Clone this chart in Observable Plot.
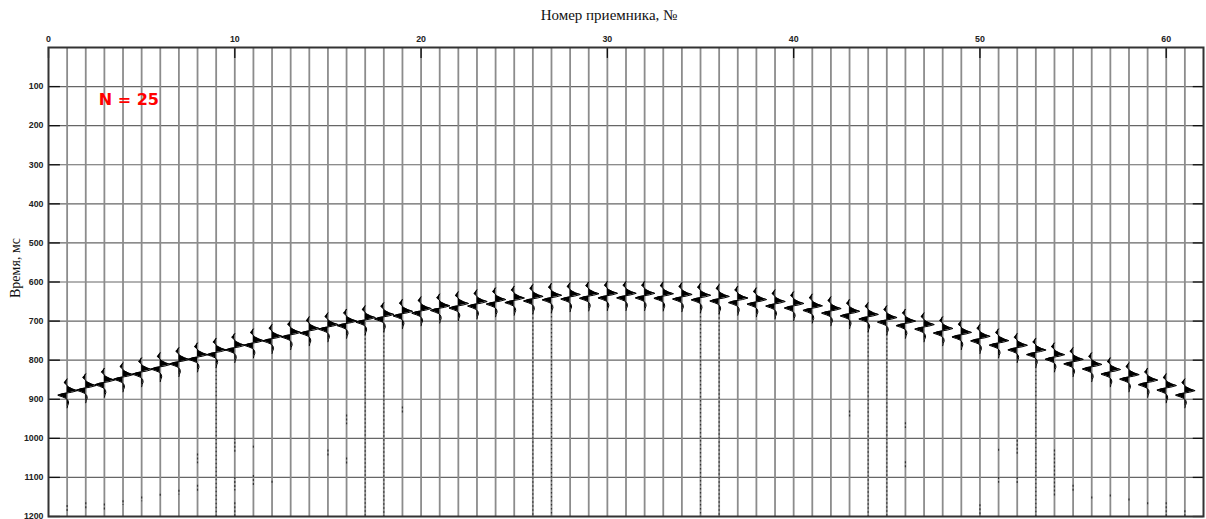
<!DOCTYPE html>
<html><head><meta charset="utf-8">
<script src="https://cdn.jsdelivr.net/npm/d3@7"></script>
<script src="https://cdn.jsdelivr.net/npm/@observablehq/plot@0.6"></script>
<style>body{margin:0;background:#fff}</style>
</head><body><div id="chart"></div>
<script>
// Receiver numbers (traces)
const receivers = [1,2,3,4,5,6,7,8,9,10,11,12,13,14,15,16,17,18,19,20,21,22,23,24,25,26,27,28,29,30,31,32,33,34,35,36,37,38,39,40,41,42,43,44,45,46,47,48,49,50,51,52,53,54,55,56,57,58,59,60,61];
// Arrival time of the main reflection on each receiver, ms
const arrivalTimes = [884,871,857,843,830,817,804,792,780,768,756,745,735,725,715,706,697,689,681,674,667,661,656,651,647,643,640,638,636,635,635,635,636,638,640,643,647,651,656,661,667,674,681,689,697,706,715,725,735,745,756,768,780,792,804,817,830,843,857,871,884];
// Wavelet shape: time offsets (ms) and amplitudes (trace units)
const waveletOffsets = [-36,-30,-26,-22,-16,-10,-6,-2,2,6,10,14,20,26,32,38];
const waveletAmps    = [0,-0.08,-0.16,-0.05,0.05,0.3,0.55,0.25,-0.25,-0.5,-0.25,-0.05,0.06,0.08,0.03,0];
// Tick labels
const xTicks = [0,10,20,30,40,50,60];
const yTicks = [100,200,300,400,500,600,700,800,900,1000,1100,1200];
const gridTimes = [100,200,300,400,500,600,700,800,900,1000,1100];
// Traces drawn with a dotted (noisy) tail below the reflection
const dottedTraces = [9,17,18,26,27,35,36,44,45,53];
// Small noise segments: receiver, start ms, end ms
const noiseRecv  = [1,2,3,4,5,6,7,8,8,10,10,10,11,11,12,15,16,16,19,43,46,46,50,51,51,52,52,54,55,56,57,58,59,60,61];
const noiseStart = [1172,1165,1168,1160,1150,1143,1133,1040,1120,1000,1100,1165,1020,1095,1110,1030,940,1050,920,930,960,1060,1170,1028,1100,1005,1100,1030,1120,1150,1145,1155,1165,1165,1185];
const noiseEnd   = [1190,1182,1185,1172,1162,1153,1145,1065,1140,1040,1135,1200,1030,1125,1118,1045,965,1070,935,950,975,1080,1200,1035,1115,1045,1120,1150,1140,1160,1155,1165,1175,1200,1200];

const wiggle = [];
receivers.forEach((r, i) => {
  waveletOffsets.forEach((o, k) => wiggle.push({r, t: arrivalTimes[i] + o, a: waveletAmps[k]}));
});
const dotted = dottedTraces.map(r => ({r, t1: arrivalTimes[r - 1] + 38, t2: 1200}));
const noise = noiseRecv.map((r, i) => ({r, t1: noiseStart[i], t2: noiseEnd[i]}));

const chart = Plot.plot({
  width: 1206, height: 519,
  marginTop: 47, marginLeft: 48, marginRight: 3, marginBottom: 3,
  x: {domain: [0, 62], axis: null},
  y: {domain: [0, 1200], reverse: true, axis: null},
  style: {fontFamily: "Liberation Sans, Arial, sans-serif", background: "#fff"},
  marks: [
    Plot.ruleY(gridTimes, {stroke: "#666", strokeWidth: 1.2}),
    Plot.ruleX(receivers, {stroke: "#8c8c8c", strokeWidth: 1.8}),
    Plot.ruleX(dotted, {x: "r", y1: "t1", y2: "t2", stroke: "#333", strokeWidth: 1.2, strokeDasharray: "1.5,2.5"}),
    Plot.ruleX(noise, {x: "r", y1: "t1", y2: "t2", stroke: "#333", strokeWidth: 1.2, strokeDasharray: "2,2"}),
    Plot.areaX(wiggle, {y: "t", x1: "r", x2: d => d.r + d.a, z: "r", fill: "black", curve: "linear"}),
    Plot.line(wiggle, {x: d => d.r + d.a, y: "t", z: "r", stroke: "black", strokeWidth: 1}),
    // inside ticks
    Plot.ruleX(xTicks, {y1: 0, y2: 28, stroke: "#111", strokeWidth: 1.3}),
    Plot.ruleY(yTicks, {x1: 0, x2: 0.64, stroke: "#111", strokeWidth: 1.3}),
    Plot.ruleY(yTicks, {x1: 61.45, x2: 62, stroke: "#111", strokeWidth: 1.3}),
    Plot.frame({stroke: "#333", strokeWidth: 2}),
    // tick labels
    Plot.text(xTicks, {x: d => d, y: 0, dy: -6, lineAnchor: "bottom", text: d => String(d), fontSize: 8.8, fontWeight: "bold", fill: "#222"}),
    Plot.text(yTicks, {x: 0, y: d => d, dx: -5, textAnchor: "end", text: d => String(d), fontSize: 8.8, fontWeight: "bold", fill: "#222"}),
    // axis titles
    Plot.text(["Номер приемника, №"], {frameAnchor: "top", dx: -17, dy: -32, lineAnchor: "middle", text: d => d, fontFamily: "Liberation Serif, Times New Roman, serif", fontSize: 15, fill: "#111"}),
    Plot.text(["Время, мс"], {frameAnchor: "left", dx: -33, dy: -14, rotate: -90, textAnchor: "middle", text: d => d, fontFamily: "Liberation Serif, Times New Roman, serif", fontSize: 14, fill: "#111"}),
    // annotation
    Plot.text(["N = 25"], {x: 2.7, y: 133, textAnchor: "start", text: d => d, fontFamily: "DejaVu Sans, sans-serif", fontWeight: "bold", fontSize: 16, fill: "#ff0000"})
  ]
});
document.getElementById("chart").appendChild(chart);
</script>
</body></html>
